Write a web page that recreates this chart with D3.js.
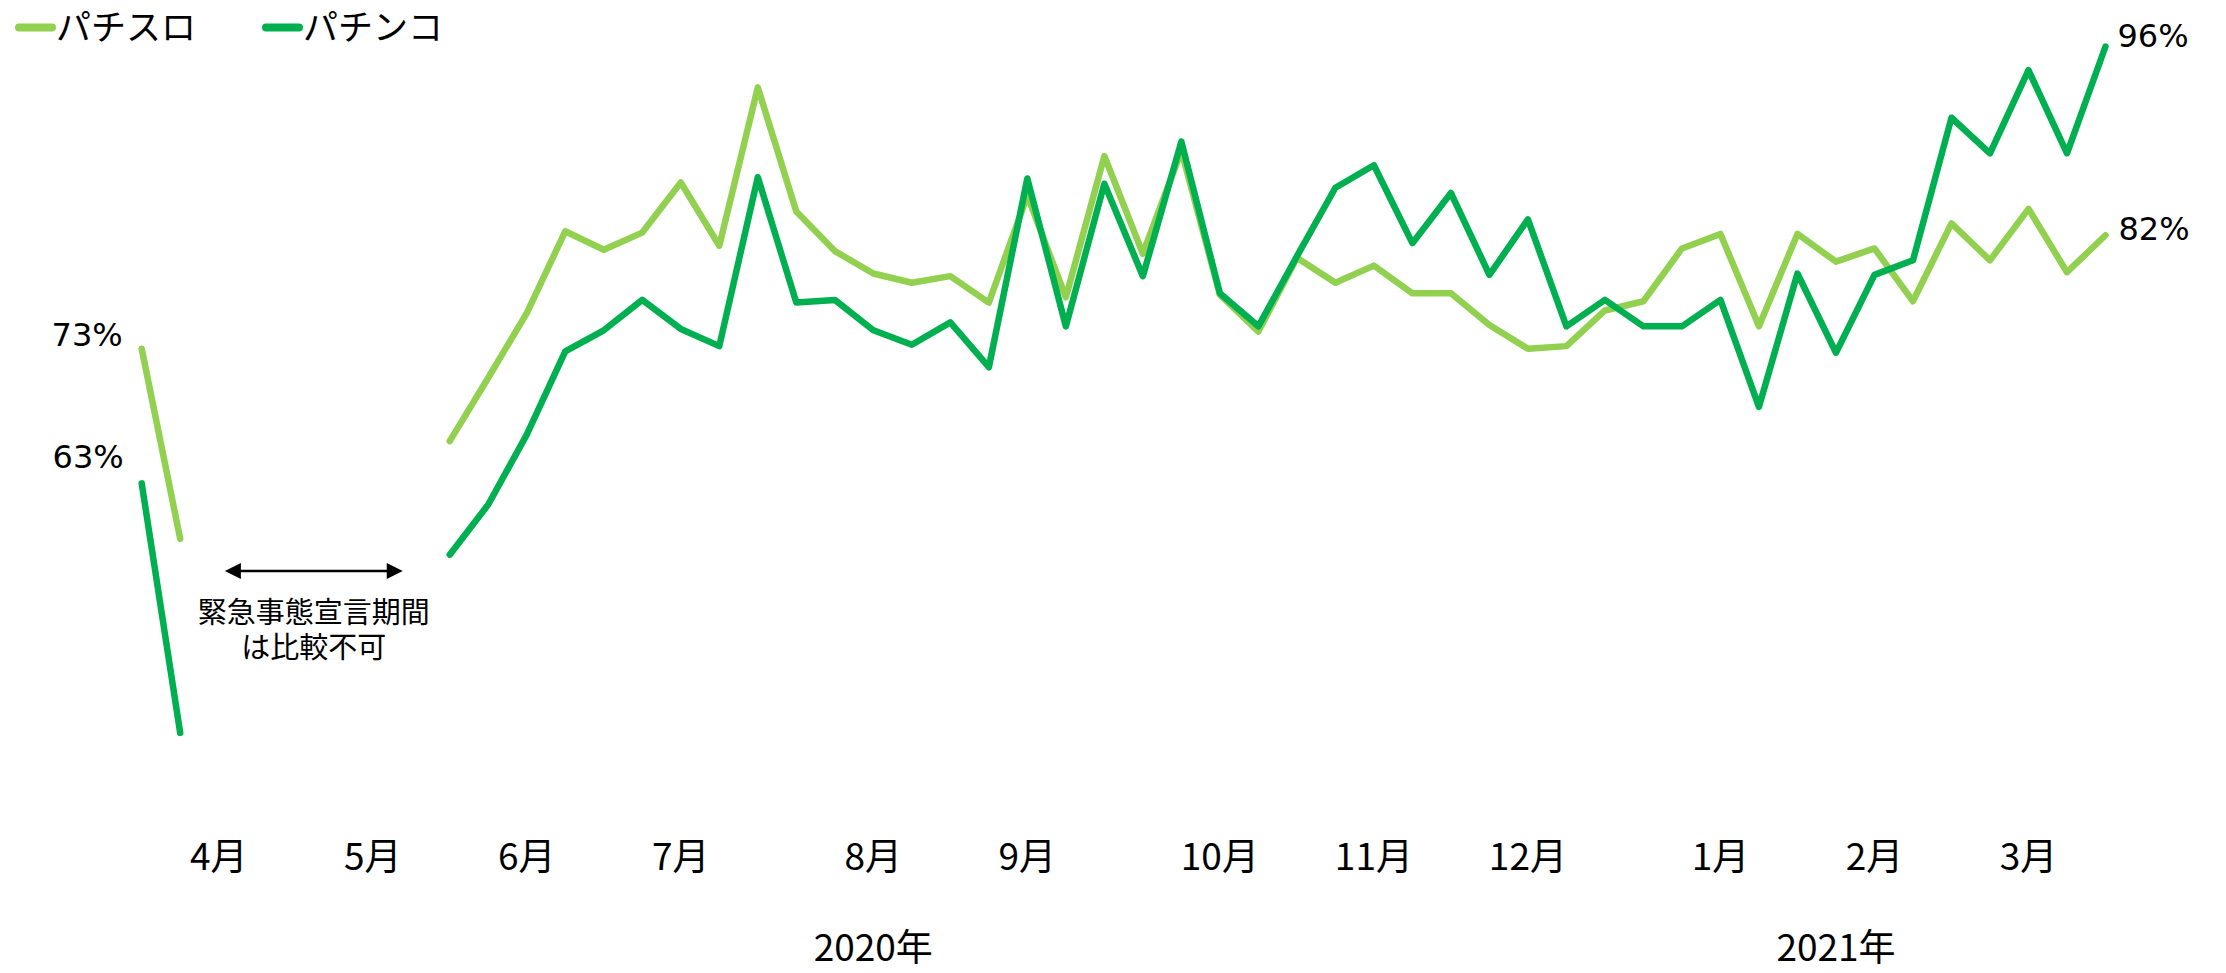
<!DOCTYPE html>
<html>
<head>
<meta charset="utf-8">
<script src="https://cdn.jsdelivr.net/npm/d3@7/dist/d3.min.js"></script>
<style>
  body { margin: 0; background: #fff; }
  svg text { font-family: "Noto Sans CJK JP", sans-serif; fill: #000; }
  .pct { font-family: "DejaVu Sans", sans-serif; font-size: 32px; }
</style>
</head>
<body>
<div id="chart"></div>
<script>
// weekly index 0..51 (2020年4月 - 2021年3月), null = 緊急事態宣言期間
const pachislo = [
  73.2, 58.8, null, null, null, null, null, null,
  66.2, 71.0, 75.9, 82.1, 80.7, 82.0, 85.8, 81.0, 93.0, 83.6,
  80.6, 78.9, 78.2, 78.7, 76.7, 84.8, 77.1, 87.8, 80.4, 88.2,
  77.3, 74.5, 80.1, 78.2, 79.5, 77.4, 77.4, 75.0, 73.2, 73.4,
  76.1, 76.8, 80.8, 81.9, 74.9, 81.9, 79.8, 80.8, 76.8, 82.7,
  79.9, 83.8, 79.0, 81.8
];
const pachinko = [
  63.0, 44.1, null, null, null, null, null, null,
  57.6, 61.4, 66.7, 73.0, 74.6, 76.9, 74.7, 73.4, 86.2, 76.7,
  76.9, 74.6, 73.5, 75.2, 71.8, 86.1, 74.9, 85.7, 78.7, 88.9,
  77.4, 74.9, 80.2, 85.4, 87.1, 81.2, 85.0, 78.8, 83.0, 74.9,
  76.9, 74.9, 74.9, 76.9, 68.8, 78.9, 72.9, 78.8, 79.9, 90.7,
  88.0, 94.3, 88.0, 96.1
];
const seriesNames = ["パチスロ", "パチンコ"];
const monthLabels = ["4月", "5月", "6月", "7月", "8月", "9月", "10月", "11月", "12月", "1月", "2月", "3月"];
const monthWeeks = [2, 6, 10, 14, 19, 23, 28, 32, 36, 41, 45, 49];
const yearLabels = ["2020年", "2021年"];
const yearWeeks = [19, 44];
const startLabels = ["73%", "63%"];
const endLabels = ["82%", "96%"];
const noteLines = ["緊急事態宣言期間", "は比較不可"];

const width = 2226, height = 973;
const colors = ["#92D050", "#00B050"];
const series = [pachislo, pachinko];

const svg = d3.select("#chart").append("svg")
    .attr("width", width)
    .attr("height", height);

const x = d3.scaleLinear().domain([0, 51]).range([141.7, 2105.5]);
const y = d3.scaleLinear().domain([40, 100]).range([787, -5]);

const line = d3.line()
    .defined(d => d != null)
    .x((d, i) => x(i))
    .y(d => y(d));

// lines (パチスロ first so パチンコ sits on top)
series.forEach((s, k) => {
    svg.append("path")
        .datum(s)
        .attr("fill", "none")
        .attr("stroke", colors[k])
        .attr("stroke-width", 6.5)
        .attr("stroke-linejoin", "round")
        .attr("stroke-linecap", "round")
        .attr("d", line);
});

// value labels at the ends
const startNudge = [[-19, -14], [-18, -27]];
const endNudge = [[13, -7], [12, -11]];
series.forEach((s, k) => {
    svg.append("text")
        .attr("class", "pct")
        .attr("text-anchor", "end")
        .attr("x", x(0) + startNudge[k][0])
        .attr("y", y(s[0]) + startNudge[k][1] + 11.7)
        .text(startLabels[k]);
    const last = s.length - 1;
    svg.append("text")
        .attr("class", "pct")
        .attr("x", x(last) + endNudge[k][0])
        .attr("y", y(s[last]) + endNudge[k][1] + 11.7)
        .text(endLabels[k]);
});

// month / year labels
svg.selectAll(".month")
    .data(monthLabels)
    .enter().append("text")
    .attr("class", "month")
    .attr("text-anchor", "middle")
    .attr("x", (d, i) => x(monthWeeks[i]))
    .attr("y", 870)
    .style("font-size", "37px")
    .text(d => d);

svg.selectAll(".year")
    .data(yearLabels)
    .enter().append("text")
    .attr("class", "year")
    .attr("text-anchor", "middle")
    .attr("x", (d, i) => x(yearWeeks[i]))
    .attr("y", 961)
    .style("font-size", "37px")
    .text(d => d);

// legend
const legend = svg.append("g");
const legendX = [15, 262];
seriesNames.forEach((name, k) => {
    legend.append("line")
        .attr("x1", legendX[k] + 4).attr("x2", legendX[k] + 37)
        .attr("y1", 27.5).attr("y2", 27.5)
        .attr("stroke", colors[k])
        .attr("stroke-width", 8)
        .attr("stroke-linecap", "round");
    legend.append("text")
        .attr("x", legendX[k] + 41)
        .attr("y", 40)
        .style("font-size", "35px")
        .text(name);
});

// 緊急事態宣言 annotation
const ax1 = x(2.16), ax2 = x(6.78), ay = 571;
svg.append("line")
    .attr("x1", ax1 + 10).attr("x2", ax2 - 10)
    .attr("y1", ay).attr("y2", ay)
    .attr("stroke", "#000")
    .attr("stroke-width", 2.5);
svg.append("path")
    .attr("d", `M${ax1},${ay}L${ax1 + 16},${ay - 8}L${ax1 + 16},${ay + 8}Z`)
    .attr("fill", "#000");
svg.append("path")
    .attr("d", `M${ax2},${ay}L${ax2 - 16},${ay - 8}L${ax2 - 16},${ay + 8}Z`)
    .attr("fill", "#000");

svg.selectAll(".note")
    .data(noteLines)
    .enter().append("text")
    .attr("class", "note")
    .attr("text-anchor", "middle")
    .attr("x", (ax1 + ax2) / 2)
    .attr("y", (d, i) => 623 + i * 35)
    .style("font-size", "29px")
    .text(d => d);
</script>
</body>
</html>
